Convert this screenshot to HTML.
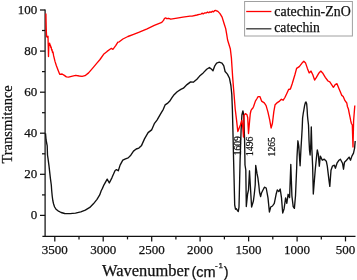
<!DOCTYPE html>
<html><head><meta charset="utf-8"><style>
html,body{margin:0;padding:0;background:#fff;}
svg{display:block;will-change:transform;}
text{font-family:"Liberation Serif",serif;fill:#111;stroke:#111;stroke-width:0.25px;}
</style></head><body>
<svg width="357" height="280" viewBox="0 0 357 280">
<rect width="357" height="280" fill="#fff"/>
<g stroke="#111" stroke-width="1.25" fill="none">
<line x1="45.1" y1="9.5" x2="45.1" y2="236.4"/>
<line x1="42.4" y1="236.4" x2="355.5" y2="236.4"/>
<line x1="40" y1="215.4" x2="45.1" y2="215.4"/><line x1="40" y1="174.3" x2="45.1" y2="174.3"/><line x1="40" y1="133.2" x2="45.1" y2="133.2"/><line x1="40" y1="92.2" x2="45.1" y2="92.2"/><line x1="40" y1="51.1" x2="45.1" y2="51.1"/><line x1="40" y1="10.0" x2="45.1" y2="10.0"/><line x1="42" y1="194.9" x2="45.1" y2="194.9"/><line x1="42" y1="153.8" x2="45.1" y2="153.8"/><line x1="42" y1="112.7" x2="45.1" y2="112.7"/><line x1="42" y1="71.6" x2="45.1" y2="71.6"/><line x1="42" y1="30.5" x2="45.1" y2="30.5"/><line x1="54.8" y1="236.4" x2="54.8" y2="241.4"/><line x1="103.2" y1="236.4" x2="103.2" y2="241.4"/><line x1="151.7" y1="236.4" x2="151.7" y2="241.4"/><line x1="200.1" y1="236.4" x2="200.1" y2="241.4"/><line x1="248.6" y1="236.4" x2="248.6" y2="241.4"/><line x1="297.1" y1="236.4" x2="297.1" y2="241.4"/><line x1="345.5" y1="236.4" x2="345.5" y2="241.4"/><line x1="79.0" y1="236.4" x2="79.0" y2="239.4"/><line x1="127.5" y1="236.4" x2="127.5" y2="239.4"/><line x1="175.9" y1="236.4" x2="175.9" y2="239.4"/><line x1="224.4" y1="236.4" x2="224.4" y2="239.4"/><line x1="272.8" y1="236.4" x2="272.8" y2="239.4"/><line x1="321.3" y1="236.4" x2="321.3" y2="239.4"/>
</g>
<g font-size="13">
<text x="37.2" y="218.9" text-anchor="end">0</text><text x="37.2" y="177.8" text-anchor="end">20</text><text x="37.2" y="136.7" text-anchor="end">40</text><text x="37.2" y="95.7" text-anchor="end">60</text><text x="37.2" y="54.6" text-anchor="end">80</text><text x="37.2" y="13.5" text-anchor="end">100</text>
<text x="54.8" y="254.2" text-anchor="middle">3500</text><text x="103.2" y="254.2" text-anchor="middle">3000</text><text x="151.7" y="254.2" text-anchor="middle">2500</text><text x="200.1" y="254.2" text-anchor="middle">2000</text><text x="248.6" y="254.2" text-anchor="middle">1500</text><text x="297.1" y="254.2" text-anchor="middle">1000</text><text x="345.5" y="254.2" text-anchor="middle">500</text>
</g>
<polyline points="45.5,133.4 46.1,140.0 47.2,145.8 47.5,155.0 48.0,158.4 49.0,165.8 50.4,178.3 51.3,185.0 51.7,190.8 52.2,196.0 52.8,200.5 53.6,204.0 54.6,207.0 56.0,209.2 58.0,210.8 61.1,212.5 64.7,213.5 70.1,213.6 75.5,213.2 80.8,211.9 85.3,210.1 89.8,207.4 93.4,203.8 97.0,199.3 99.7,194.9 101.3,190.5 102.3,188.6 104.0,184.8 107.2,179.1 109.3,183.0 112.0,177.6 115.1,170.5 116.5,169.6 118.3,170.8 120.1,165.1 122.8,160.1 125.5,158.8 128.2,157.9 130.8,155.2 133.5,151.1 136.2,149.0 138.9,148.1 141.6,145.4 144.5,138.9 148.1,132.6 151.6,129.9 154.3,123.7 157.0,120.1 160.6,113.8 163.3,109.3 165.1,104.9 167.8,103.1 169.6,101.3 172.3,97.2 173.6,95.3 177.2,91.7 180.8,89.4 183.4,88.2 187.0,84.6 190.6,81.9 193.3,82.2 196.9,79.2 199.6,76.1 203.2,72.9 206.7,69.3 209.4,67.5 211.6,69.3 213.0,70.8 214.8,65.8 216.6,63.1 219.3,62.2 222.0,63.1 223.8,65.8 225.1,71.5 227.4,74.1 229.5,78.3 230.9,85.5 231.8,94.4 232.4,110.0 232.9,130.0 233.6,160.0 234.1,180.0 234.7,205.0 235.5,209.2 236.3,208.6 237.1,210.0 238.3,211.5 239.0,207.0 239.3,195.0 240.1,160.0 241.1,130.0 241.9,115.0 242.9,110.9 243.7,115.0 244.6,140.0 245.0,165.0 245.8,170.0 246.3,206.5 247.6,194.0 248.5,190.0 249.5,170.8 250.3,185.0 251.6,207.0 253.4,201.0 254.3,194.0 255.2,185.0 255.7,165.4 257.0,173.4 257.9,177.9 258.8,185.0 259.5,192.0 260.6,196.5 261.5,193.0 262.6,190.8 264.4,187.2 266.2,188.0 268.0,197.9 269.4,212.0 270.7,207.0 272.5,206.0 274.3,203.3 276.1,194.3 277.3,189.9 278.8,191.6 280.2,189.0 281.5,197.9 282.7,213.0 284.1,208.7 285.6,197.9 286.8,203.3 288.1,194.3 289.6,197.6 290.8,164.5 291.9,195.8 293.2,206.6 294.4,208.4 295.5,195.8 296.7,167.2 297.0,156.9 297.9,140.8 298.8,146.1 299.7,160.5 300.1,165.8 300.9,150.0 301.8,135.0 302.2,128.0 302.6,118.0 303.3,113.0 303.8,110.3 304.6,105.5 305.4,102.6 306.0,102.0 306.7,104.0 307.1,109.0 307.5,116.0 307.8,119.0 308.5,125.0 309.0,140.0 309.5,150.0 310.1,155.0 310.8,144.0 311.3,127.0 311.9,150.0 312.6,165.0 313.3,194.0 315.2,170.2 316.4,158.0 317.3,150.0 318.3,154.1 319.3,166.2 320.3,156.1 321.3,158.1 322.3,160.2 324.3,159.2 326.3,161.2 327.3,166.2 329.0,180.3 329.8,186.4 331.0,170.2 332.4,166.2 334.4,165.2 335.4,168.2 337.0,163.2 339.0,160.2 340.4,159.2 342.5,163.2 343.5,169.2 344.5,162.2 346.5,160.2 349.1,157.1 350.5,160.2 351.9,156.1 353.5,153.1 354.6,148.1 355.2,141.0" fill="none" stroke="#111" stroke-width="1.35" stroke-linejoin="round"/>
<polyline points="45.9,13.6 46.2,28.0 46.6,36.5 47.3,37.2 48.0,36.2 48.2,44.0 48.5,56.5 48.8,46.0 49.2,44.0 49.6,43.2 50.0,45.5 50.4,45.0 50.8,47.5 51.2,47.0 51.6,50.0 52.0,49.5 52.5,52.5 53.0,52.0 53.6,55.7 55.0,61.4 56.4,65.7 58.3,70.7 59.7,74.3 62.1,74.0 64.3,75.4 66.4,76.9 68.6,77.1 71.4,76.4 75.7,75.4 79.3,76.0 82.1,76.4 85.0,75.7 88.6,72.9 92.9,67.9 97.1,62.9 100.0,59.5 103.6,54.3 107.1,51.4 110.0,49.3 111.4,48.4 112.9,49.3 115.7,45.7 117.9,42.1 119.3,41.8 122.9,39.0 127.9,36.5 133.6,34.4 139.3,32.2 147.1,28.8 154.3,25.4 161.8,22.3 163.5,20.4 164.6,18.3 165.7,17.9 166.9,18.7 168.5,18.3 170.8,19.2 177.1,18.1 182.9,17.1 190.0,16.1 192.1,16.1 197.0,15.0 199.3,14.3 201.0,14.1 202.0,13.2 203.2,13.9 204.5,13.0 206.4,12.9 207.6,12.0 208.8,12.8 210.0,11.8 211.2,12.3 212.4,11.2 213.5,11.9 214.5,10.7 215.7,10.4 216.8,11.0 217.9,11.4 220.0,13.6 222.1,17.1 224.3,24.3 225.7,28.6 226.7,34.3 227.6,40.0 230.3,48.7 231.4,57.9 232.0,67.0 232.6,76.4 233.5,87.9 234.1,95.0 234.5,100.0 235.2,109.0 236.5,119.7 237.8,131.5 239.2,128.0 240.5,124.8 241.8,120.4 242.6,125.0 243.5,137.0 244.0,115.4 245.4,113.7 246.9,114.6 247.7,117.5 248.5,133.5 249.6,121.0 250.3,113.5 251.0,110.5 251.8,109.2 252.9,108.0 253.6,106.5 255.4,101.1 256.7,99.0 258.1,96.6 259.9,96.6 261.6,101.1 264.3,102.9 266.1,105.6 267.9,111.9 269.7,119.9 271.1,128.0 272.4,123.5 273.8,111.9 275.1,104.7 276.9,102.9 279.6,101.1 281.4,99.3 283.2,100.2 284.9,97.5 286.8,93.5 288.6,89.5 290.4,89.0 292.2,83.7 294.9,74.7 296.6,68.4 299.3,66.6 302.0,63.1 303.8,61.3 305.6,63.1 307.4,68.4 309.2,72.9 311.0,71.1 312.8,74.7 314.6,80.1 316.4,77.4 319.0,72.9 320.8,71.1 322.6,72.9 325.3,77.4 328.0,81.0 329.8,81.9 331.6,84.6 333.4,87.3 335.2,84.6 337.0,83.7 338.8,88.2 340.6,92.6 341.8,95.4 343.2,96.5 345.0,100.7 346.8,103.0 347.4,106.4 348.4,109.0 349.3,113.6 350.2,117.9 350.7,120.7 351.4,123.5 352.3,125.0 353.0,147.0 353.6,121.0 354.8,105.5" fill="none" stroke="#f00" stroke-width="1.35" stroke-linejoin="round"/>
<g font-size="9.6">
<text transform="translate(240.6,155.3) rotate(-90)">1609</text>
<text transform="translate(253.3,155.9) rotate(-90)">1496</text>
<text transform="translate(275.0,156.4) rotate(-90)">1265</text>
</g>
<text transform="translate(12.3,163.6) rotate(-90)" font-size="14.5">Transmitance</text>
<text x="102" y="276.4" font-size="16.4" textLength="87.2" lengthAdjust="spacingAndGlyphs">Wavenumber</text>
<g font-family="Liberation Sans" style="font-family:'Liberation Sans',sans-serif">
<text x="191.4" y="277" font-size="14.5" style="font-family:'Liberation Sans',sans-serif">(cm</text>
<text x="215.1" y="268.4" font-size="8" style="font-family:'Liberation Sans',sans-serif">-</text>
<text x="218.4" y="268.4" font-size="8" style="font-family:'Liberation Sans',sans-serif">1</text>
<text x="223.7" y="277" font-size="14.5" style="font-family:'Liberation Sans',sans-serif">)</text>
</g>
<rect x="244.6" y="1.5" width="107.8" height="34.5" fill="#fff" stroke="#a0a0a0" stroke-width="1"/>
<line x1="246.2" y1="11.5" x2="271.4" y2="11.5" stroke="#f00" stroke-width="1.3"/>
<line x1="246.2" y1="28.8" x2="271.4" y2="28.8" stroke="#333" stroke-width="1.3"/>
<text x="274.3" y="15.5" font-size="15" textLength="76.4" lengthAdjust="spacingAndGlyphs">catechin-ZnO</text>
<text x="274.3" y="32.3" font-size="15" textLength="45.6" lengthAdjust="spacingAndGlyphs">catechin</text>
</svg>
</body></html>
